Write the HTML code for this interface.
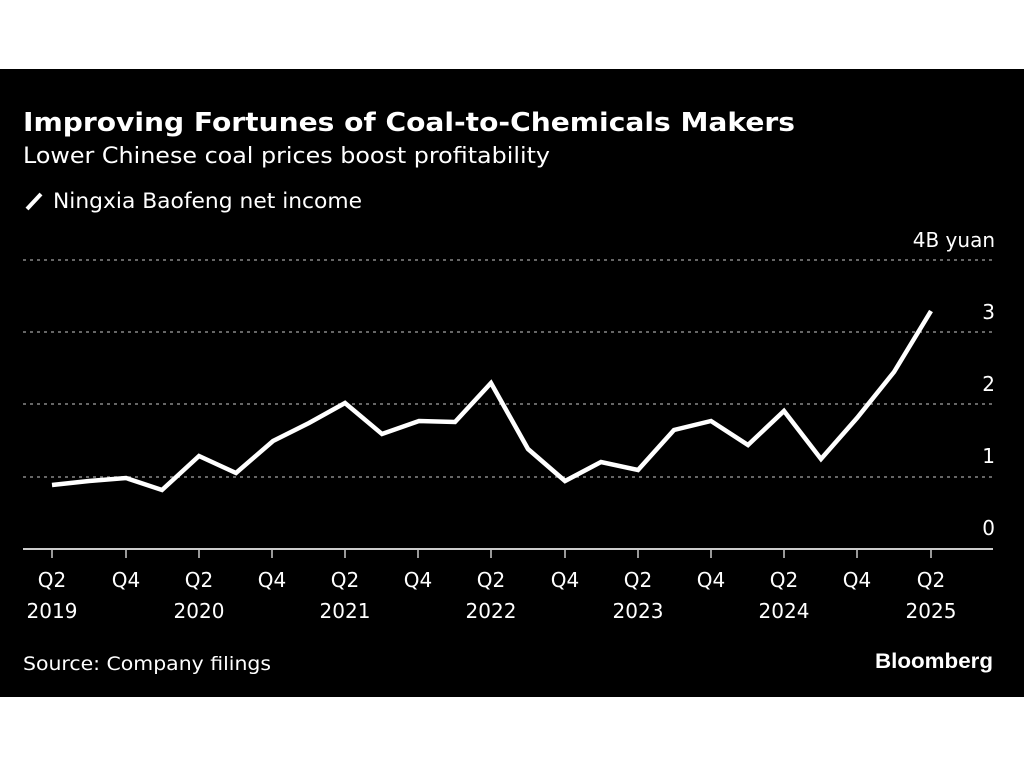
<!DOCTYPE html>
<html><head><style>
body{margin:0;width:1024px;height:768px;background:#fff;overflow:hidden;font-family:"DejaVu Sans","Liberation Sans",sans-serif;}
#p{position:absolute;left:0;top:69px;width:1024px;height:628px;background:#000;}
</style></head><body>
<div id="p"></div>
<svg width="1024" height="768" style="position:absolute;left:0;top:0" font-family="DejaVu Sans, Liberation Sans, sans-serif">
<text x="23" y="131" fill="#fff" font-size="26" font-weight="bold" textLength="772" lengthAdjust="spacingAndGlyphs">Improving Fortunes of Coal-to-Chemicals Makers</text>
<text x="23" y="163" fill="#fff" font-size="22" textLength="527" lengthAdjust="spacingAndGlyphs">Lower Chinese coal prices boost profitability</text>
<line x1="27" y1="209" x2="41" y2="194" stroke="#fff" stroke-width="4"/>
<text x="53" y="208" fill="#fff" font-size="21" textLength="309" lengthAdjust="spacingAndGlyphs">Ningxia Baofeng net income</text>
<g stroke="#888" stroke-width="1.5" stroke-dasharray="3,4">
<line x1="23" y1="260" x2="993" y2="260"/><line x1="23" y1="332" x2="993" y2="332"/>
<line x1="23" y1="404" x2="993" y2="404"/><line x1="23" y1="477" x2="993" y2="477"/>
</g>
<line x1="23" y1="549" x2="993" y2="549" stroke="#ccc" stroke-width="2"/>
<g stroke="#ccc" stroke-width="1.5">
<line x1="52" y1="549" x2="52" y2="558"/><line x1="126" y1="549" x2="126" y2="558"/><line x1="199" y1="549" x2="199" y2="558"/><line x1="272" y1="549" x2="272" y2="558"/><line x1="345" y1="549" x2="345" y2="558"/><line x1="418" y1="549" x2="418" y2="558"/><line x1="491" y1="549" x2="491" y2="558"/><line x1="565" y1="549" x2="565" y2="558"/><line x1="638" y1="549" x2="638" y2="558"/><line x1="711" y1="549" x2="711" y2="558"/><line x1="784" y1="549" x2="784" y2="558"/><line x1="857" y1="549" x2="857" y2="558"/><line x1="931" y1="549" x2="931" y2="558"/>
</g>
<g fill="#fff" font-size="20" text-anchor="end">
<text x="995" y="247">4B yuan</text><text x="995" y="319">3</text><text x="995" y="391">2</text><text x="995" y="463">1</text><text x="995" y="535">0</text>
</g>
<g fill="#fff" font-size="20" text-anchor="middle">
<text x="52" y="587">Q2</text><text x="52" y="618">2019</text>
<text x="126" y="587">Q4</text>
<text x="199" y="587">Q2</text><text x="199" y="618">2020</text>
<text x="272" y="587">Q4</text>
<text x="345" y="587">Q2</text><text x="345" y="618">2021</text>
<text x="418" y="587">Q4</text>
<text x="491" y="587">Q2</text><text x="491" y="618">2022</text>
<text x="565" y="587">Q4</text>
<text x="638" y="587">Q2</text><text x="638" y="618">2023</text>
<text x="711" y="587">Q4</text>
<text x="784" y="587">Q2</text><text x="784" y="618">2024</text>
<text x="857" y="587">Q4</text>
<text x="931" y="587">Q2</text><text x="931" y="618">2025</text>
</g>
<polyline fill="none" stroke="#fff" stroke-width="4.5" stroke-linejoin="miter" points="52,485 89,481 126,478 162,490 199,456 236,473 273,441 309,423 345,403 382,434 419,421 455,422 491,383 528,449 565,481 601,462 638,470 674,430 711,421 748,445 784,411 821,459 857,418 894,372 931,311"/>
<text x="23" y="670" fill="#fff" font-size="19" textLength="248" lengthAdjust="spacingAndGlyphs">Source: Company filings</text>
<text x="993" y="668" fill="#fff" font-size="21" font-weight="bold" text-anchor="end" font-family="Liberation Sans, sans-serif" textLength="118" lengthAdjust="spacingAndGlyphs">Bloomberg</text>
</svg>
</body></html>
